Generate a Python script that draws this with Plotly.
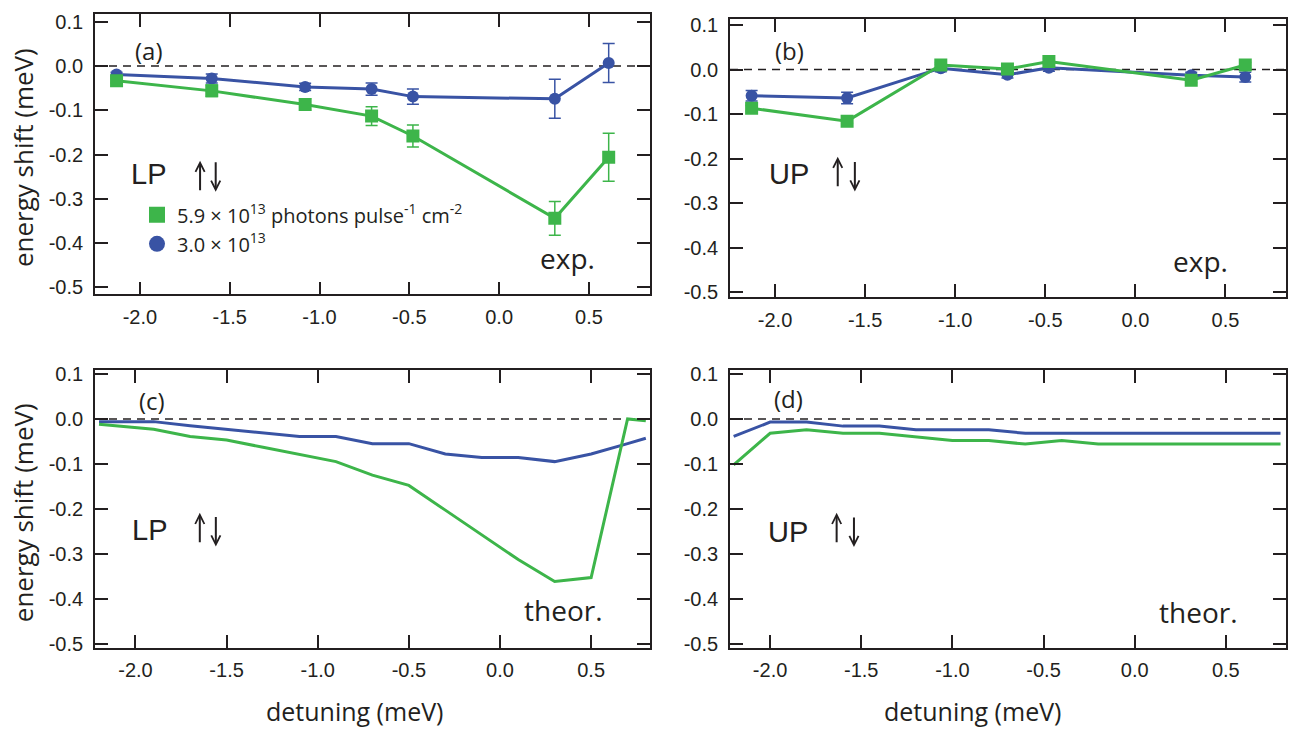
import plotly.graph_objects as go

# ---------------- data ----------------
x_exp = [-2.13, -1.60, -1.08, -0.71, -0.48, 0.31, 0.61]

a_green = [-0.033, -0.056, -0.087, -0.113, -0.158, -0.344, -0.206]
a_green_err = [0.005, 0.013, 0.013, 0.021, 0.025, 0.038, 0.054]
a_blue = [-0.019, -0.028, -0.047, -0.052, -0.069, -0.074, 0.007]
a_blue_err = [0.005, 0.010, 0.008, 0.014, 0.017, 0.044, 0.044]

b_green = [-0.087, -0.116, 0.010, 0.001, 0.018, -0.024, 0.010]
b_green_err = [0.006, 0.005, 0.006, 0.005, 0.006, 0.006, 0.006]
b_blue = [-0.059, -0.064, 0.003, -0.012, 0.004, -0.013, -0.017]
b_blue_err = [0.012, 0.013, 0.008, 0.007, 0.008, 0.007, 0.011]

x_theo_c = [-2.2, -1.9, -1.7, -1.5, -1.3, -1.1, -0.9, -0.7, -0.5, -0.3, -0.1, 0.1, 0.3, 0.5, 0.7, 0.8]
c_blue = [-0.006, -0.006, -0.015, -0.023, -0.031, -0.039, -0.039, -0.055, -0.055, -0.078, -0.086, -0.086, -0.095, -0.078, -0.055, -0.043]
c_green = [-0.012, -0.023, -0.039, -0.047, -0.063, -0.079, -0.095, -0.125, -0.148, -0.203, -0.257, -0.313, -0.362, -0.353, 0.0, -0.004]

x_theo_d = [-2.2, -2.0, -1.8, -1.6, -1.4, -1.2, -1.0, -0.8, -0.6, -0.4, -0.2, 0.0, 0.2, 0.4, 0.6, 0.8]
d_blue = [-0.039, -0.007, -0.007, -0.016, -0.016, -0.024, -0.024, -0.024, -0.032, -0.032, -0.032, -0.032, -0.032, -0.032, -0.032, -0.032]
d_green = [-0.102, -0.032, -0.024, -0.032, -0.032, -0.040, -0.048, -0.048, -0.056, -0.048, -0.056, -0.056, -0.056, -0.056, -0.056, -0.056]

x_tickvals = [-2.0, -1.5, -1.0, -0.5, 0.0, 0.5]
x_ticktext = ["-2.0", "-1.5", "-1.0", "-0.5", "0.0", "0.5"]
y_tickvals = [0.1, 0.0, -0.1, -0.2, -0.3, -0.4, -0.5]
y_ticktext = ["0.1", "0.0", "-0.1", "-0.2", "-0.3", "-0.4", "-0.5"]

legend_green = "5.9 × 10<sup>13</sup> photons pulse<sup>-1</sup> cm<sup>-2</sup>"
legend_blue = "3.0 × 10<sup>13</sup>"

# ---------------- style ----------------
GREEN = "#3db54a"
BLUE = "#3953a4"
INK = "#231f20"
W, H = 1292, 737
TICKFONT = "Liberation Sans, Arial, sans-serif"
TXTFONT = "Open Sans, Noto Sans, sans-serif"


def px(v):
    return v / W


def py(v):
    return 1 - v / H


fig = go.Figure()


def exp_traces(xa, ya, gy, ge, by, be):
    fig.add_trace(go.Scatter(
        x=x_exp, y=by, xaxis=xa, yaxis=ya, mode="lines+markers",
        line=dict(color=BLUE, width=3),
        marker=dict(symbol="circle", size=12, color=BLUE),
        error_y=dict(type="data", array=be, color=BLUE, thickness=1.5, width=6),
        showlegend=False))
    fig.add_trace(go.Scatter(
        x=x_exp, y=gy, xaxis=xa, yaxis=ya, mode="lines+markers",
        line=dict(color=GREEN, width=3),
        marker=dict(symbol="square", size=13, color=GREEN),
        error_y=dict(type="data", array=ge, color=GREEN, thickness=1.5, width=6),
        showlegend=False))


exp_traces("x", "y", a_green, a_green_err, a_blue, a_blue_err)
exp_traces("x2", "y2", b_green, b_green_err, b_blue, b_blue_err)

fig.add_trace(go.Scatter(x=x_theo_c, y=c_blue, xaxis="x3", yaxis="y3", mode="lines",
                         line=dict(color=BLUE, width=3), showlegend=False))
fig.add_trace(go.Scatter(x=x_theo_c, y=c_green, xaxis="x3", yaxis="y3", mode="lines",
                         line=dict(color=GREEN, width=3), showlegend=False))
fig.add_trace(go.Scatter(x=x_theo_d, y=d_blue, xaxis="x4", yaxis="y4", mode="lines",
                         line=dict(color=BLUE, width=3), showlegend=False))
fig.add_trace(go.Scatter(x=x_theo_d, y=d_green, xaxis="x4", yaxis="y4", mode="lines",
                         line=dict(color=GREEN, width=3), showlegend=False))

# legend entries
fig.add_trace(go.Scatter(x=[None], y=[None], mode="markers", name=legend_green,
                         legendgroup="g", marker=dict(symbol="square", size=16, color=GREEN)))
fig.add_trace(go.Scatter(x=[None], y=[None], mode="markers", name=legend_blue,
                         legendgroup="b", marker=dict(symbol="circle", size=16, color=BLUE)))


def xax(dom, rng, anchor):
    return dict(domain=dom, range=rng, anchor=anchor, tickmode="array",
                tickvals=x_tickvals, ticktext=x_ticktext, ticks="inside", ticklen=13,
                tickwidth=1.5, tickcolor=INK, showline=True, linecolor=INK, linewidth=1.8,
                mirror="ticks", showgrid=False, zeroline=False,
                tickfont=dict(family=TICKFONT, size=20, color=INK), ticklabelstandoff=4)


def yax(dom, rng, anchor):
    return dict(domain=dom, range=rng, anchor=anchor, tickmode="array",
                tickvals=y_tickvals, ticktext=y_ticktext, ticks="inside", ticklen=13,
                tickwidth=1.5, tickcolor=INK, showline=True, linecolor=INK, linewidth=1.8,
                mirror="ticks", showgrid=False, zeroline=False,
                tickfont=dict(family=TICKFONT, size=20, color=INK), ticklabelstandoff=6)


fig.update_layout(
    width=W, height=H, margin=dict(l=0, r=0, t=0, b=0),
    paper_bgcolor="white", plot_bgcolor="white",
    xaxis=xax([px(95), px(650)], [-2.25, 0.84], "y"),
    yaxis=yax([py(293), py(7)], [-0.516, 0.118], "x"),
    xaxis2=xax([px(730), px(1286)], [-2.25, 0.836], "y2"),
    yaxis2=yax([py(296), py(12)], [-0.512, 0.114], "x2"),
    xaxis3=xax([px(95), px(650)], [-2.222, 0.823], "y3"),
    yaxis3=yax([py(653), py(370)], [-0.509, 0.109], "x3"),
    xaxis4=xax([px(730), px(1286)], [-2.22, 0.83], "y4"),
    yaxis4=yax([py(653), py(370)], [-0.509, 0.109], "x4"),
    showlegend=True,
    legend=dict(x=px(137), y=py(192), xanchor="left", yanchor="top",
                bgcolor="rgba(0,0,0,0)", borderwidth=0, tracegroupgap=0,
                font=dict(family=TXTFONT, size=20, color=INK)),
)

# dashed zero lines
for xr, yr in [("x", "y"), ("x2", "y2"), ("x3", "y3"), ("x4", "y4")]:
    fig.add_shape(type="line", xref=f"{xr} domain", yref=yr, x0=0, x1=1, y0=0, y1=0,
                  line=dict(color=INK, width=1.5, dash="8px,6px"), layer="below")

ann = []


def txt(text, x, y, xr, yr, size, family=TXTFONT, **kw):
    ann.append(dict(text=text, x=x, y=y, xref=xr, yref=yr, showarrow=False,
                    xanchor="center", yanchor="middle",
                    font=dict(family=family, size=size, color=INK), **kw))


def arrow(x, y, xr, yr, up):
    # head at (x, y), tail offset in pixels
    ann.append(dict(text="", x=x, y=y, xref=xr, yref=yr, showarrow=True,
                    ax=0, ay=31 if up else -31, arrowhead=5, arrowsize=0.9,
                    arrowwidth=2, arrowcolor=INK, standoff=0, startstandoff=0))


# panel labels
txt("(a)", -1.95, 0.035, "x", "y", 24)
txt("(b)", -1.918, 0.042, "x2", "y2", 24)
txt("(c)", -1.91, 0.040, "x3", "y3", 24)
txt("(d)", -1.897, 0.046, "x4", "y4", 24)
# LP / UP
txt("LP", -1.95, -0.243, "x", "y", 29, TICKFONT)
txt("UP", -1.925, -0.234, "x2", "y2", 29, TICKFONT)
txt("LP", -1.925, -0.247, "x3", "y3", 29, TICKFONT)
txt("UP", -1.90, -0.252, "x4", "y4", 29, TICKFONT)
# spin arrows (up and down)
arrow(-1.665, -0.214, "x", "y", True)
arrow(-1.578, -0.284, "x", "y", False)
arrow(-1.652, -0.196, "x2", "y2", True)
arrow(-1.557, -0.274, "x2", "y2", False)
arrow(-1.647, -0.209, "x3", "y3", True)
arrow(-1.559, -0.284, "x3", "y3", False)
arrow(-1.635, -0.209, "x4", "y4", True)
arrow(-1.540, -0.285, "x4", "y4", False)
# exp / theor
txt("exp.", 0.38, -0.433, "x", "y", 28)
txt("exp.", 0.364, -0.43, "x2", "y2", 28)
txt("theor.", 0.35, -0.425, "x3", "y3", 28)
txt("theor.", 0.35, -0.43, "x4", "y4", 28)
# axis titles
txt("energy shift (meV)", px(23), py(154), "paper", "paper", 26, textangle=-90)
txt("energy shift (meV)", px(23), py(516), "paper", "paper", 26, textangle=-90)
txt("detuning (meV)", px(354), py(718), "paper", "paper", 25)
txt("detuning (meV)", px(972), py(718), "paper", "paper", 25)

fig.update_layout(annotations=ann)
fig.write_html("out.html")
